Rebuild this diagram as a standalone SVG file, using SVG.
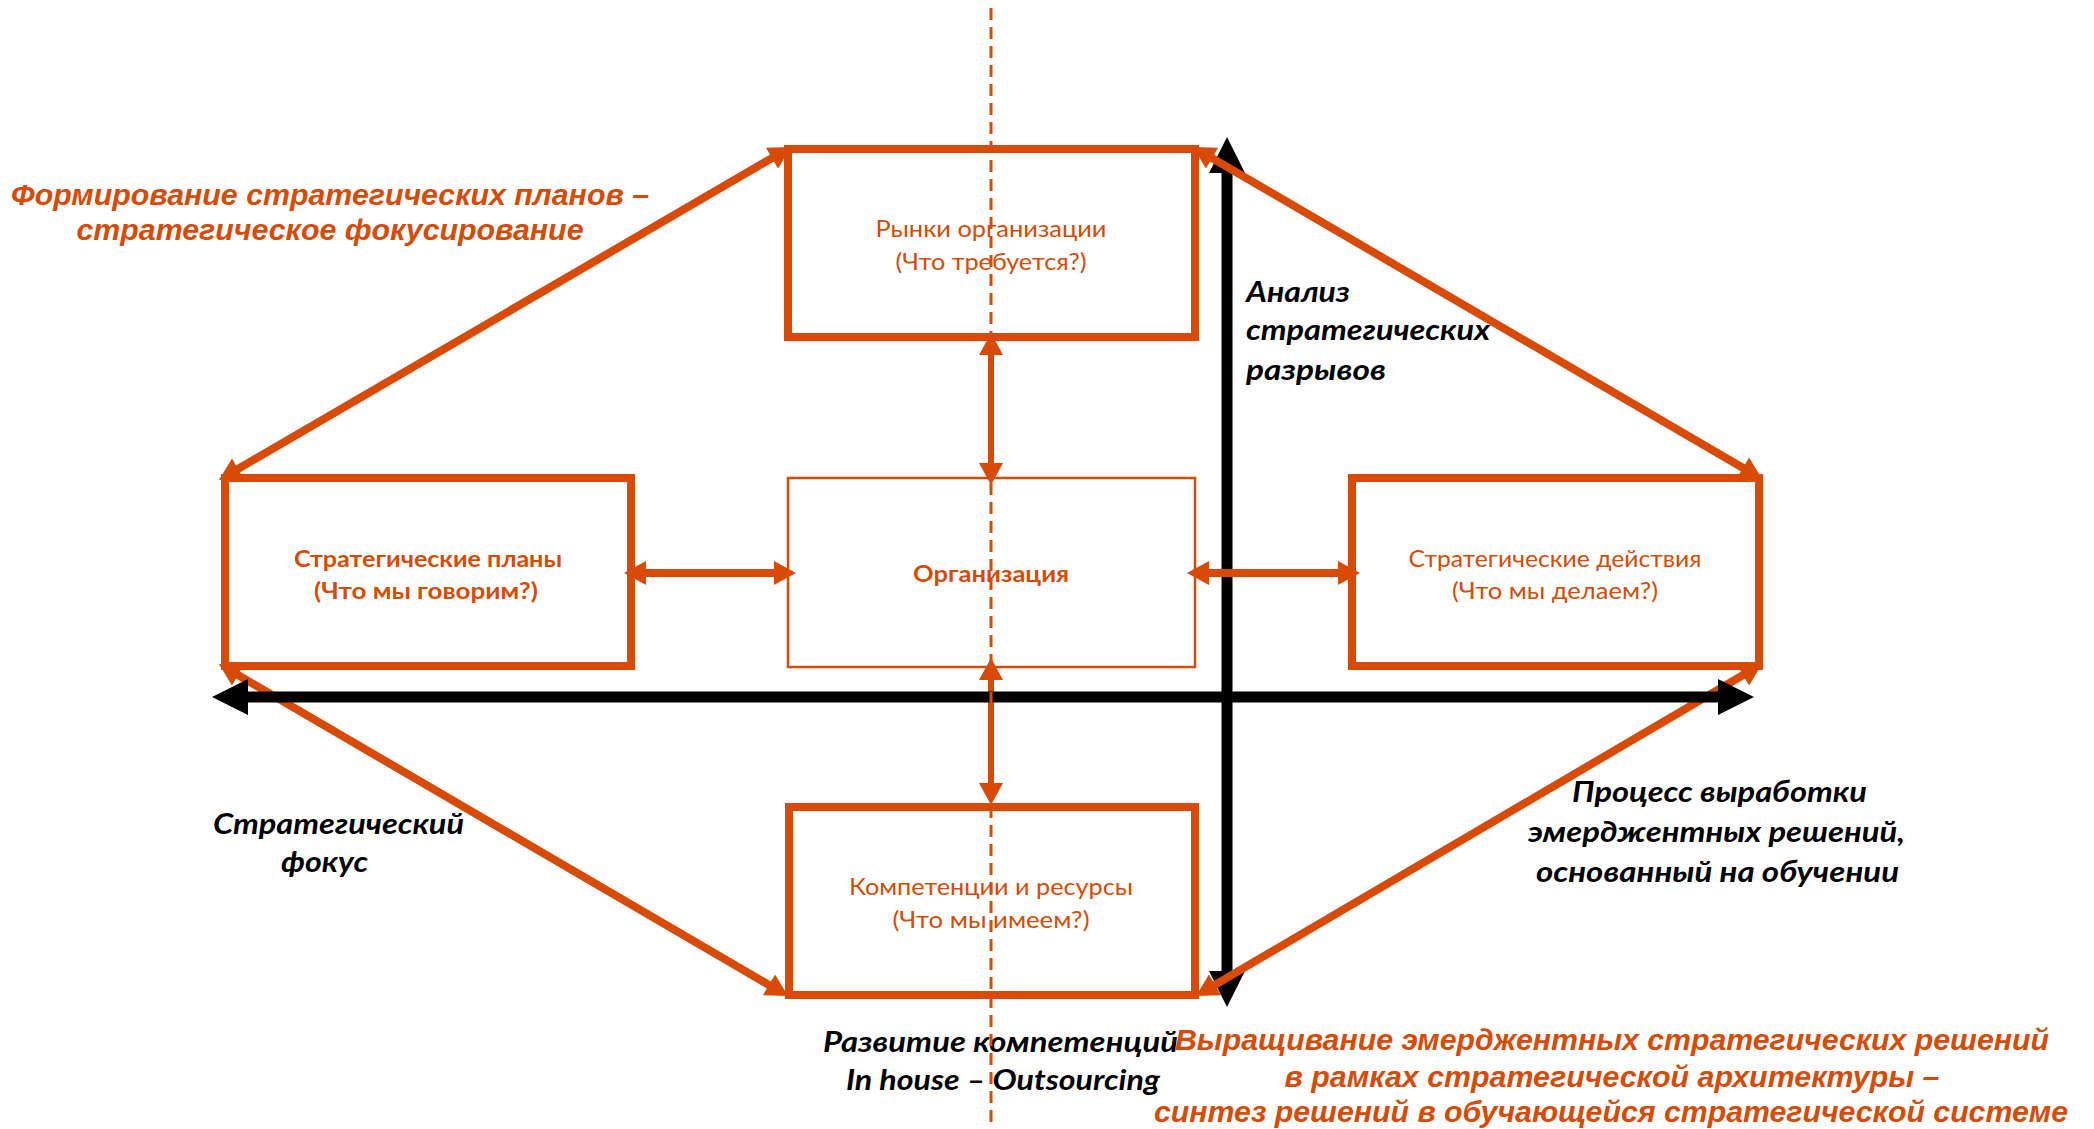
<svg xmlns="http://www.w3.org/2000/svg" width="2094" height="1129" viewBox="0 0 2094 1129">
<style>
.box{fill:#fff;stroke:#D84A05;stroke-width:8}
.thin{fill:#fff;stroke:#D84A05;stroke-width:2.5}
.bt{font-family:Lato,"Open Sans","Noto Sans",sans-serif;font-size:23px;fill:#D84A05;text-anchor:middle}
.bb{font-weight:bold}
.lbl{font-family:Lato,"Open Sans","Noto Sans",sans-serif;font-size:28px;font-weight:bold;font-style:italic;fill:#000}
.big{font-family:"Liberation Sans",Arial,sans-serif;font-size:29px;font-weight:bold;font-style:italic;fill:#D84A05;text-anchor:middle}
.oc{stroke:#D84A05;fill:none}
.ax{stroke:#000;stroke-width:11;fill:none}
</style>
<defs>
<marker id="ah" viewBox="-16 -13 26 26" refX="0" refY="0" markerWidth="26" markerHeight="26" markerUnits="userSpaceOnUse" orient="auto-start-reverse">
<path d="M-14,-12 L8,0 L-14,12 z" fill="#D84A05"/>
</marker>
<marker id="bh" viewBox="-26 -19 40 38" refX="0" refY="0" markerWidth="40" markerHeight="38" markerUnits="userSpaceOnUse" orient="auto-start-reverse">
<path d="M-24,-18 L12,0 L-24,18 z" fill="#000"/>
</marker>
</defs>
<rect width="2094" height="1129" fill="#fff"/>

<g id="axis-vertical">
<line class="ax" x1="1227" y1="149" x2="1227" y2="995" marker-start="url(#bh)" marker-end="url(#bh)"/>
</g>

<g id="node-markets">
<rect class="box" x="788" y="149" width="407" height="188"/>
<text class="bt" x="991" y="237" textLength="231" lengthAdjust="spacingAndGlyphs">Рынки организации</text>
<text class="bt" x="991" y="270" textLength="191" lengthAdjust="spacingAndGlyphs">(Что требуется?)</text>
</g>

<g id="node-org">
<rect class="thin" x="788" y="478" width="407" height="189"/>
<text class="bt bb" x="991" y="582" textLength="156" lengthAdjust="spacingAndGlyphs">Организация</text>
</g>

<g id="node-plans">
<rect class="box" x="225" y="478" width="406" height="188"/>
<text class="bt bb" x="428" y="567" textLength="268" lengthAdjust="spacingAndGlyphs">Стратегические планы</text>
<text class="bt bb" x="426" y="599" textLength="224" lengthAdjust="spacingAndGlyphs">(Что мы говорим?)</text>
</g>

<g id="node-actions">
<rect class="box" x="1352" y="478" width="407" height="188"/>
<text class="bt" x="1555" y="567" textLength="293" lengthAdjust="spacingAndGlyphs">Стратегические действия</text>
<text class="bt" x="1555" y="599" textLength="206" lengthAdjust="spacingAndGlyphs">(Что мы делаем?)</text>
</g>

<g id="node-competences">
<rect class="box" x="789" y="807" width="406" height="188"/>
<text class="bt" x="991" y="895" textLength="284" lengthAdjust="spacingAndGlyphs">Компетенции и ресурсы</text>
<text class="bt" x="991" y="928" textLength="197" lengthAdjust="spacingAndGlyphs">(Что мы имеем?)</text>
</g>

<g id="connectors">
<line class="oc" stroke-width="8" x1="225.9" y1="476" x2="784.1" y2="151" marker-start="url(#ah)" marker-end="url(#ah)"/>
<line class="oc" stroke-width="8" x1="1199.9" y1="151" x2="1755.1" y2="475" marker-start="url(#ah)" marker-end="url(#ah)"/>
<line class="oc" stroke-width="8" x1="225.9" y1="668" x2="781.1" y2="992" marker-start="url(#ah)" marker-end="url(#ah)"/>
<line class="oc" stroke-width="8" x1="1755.1" y1="668" x2="1202.9" y2="992" marker-start="url(#ah)" marker-end="url(#ah)"/>
<line class="oc" stroke-width="6" x1="991" y1="341" x2="991" y2="477" marker-start="url(#ah)" marker-end="url(#ah)"/>
<line class="oc" stroke-width="6" x1="991" y1="666" x2="991" y2="797" marker-start="url(#ah)" marker-end="url(#ah)"/>
<line class="oc" stroke-width="8" x1="632" y1="573" x2="788" y2="573" marker-start="url(#ah)" marker-end="url(#ah)"/>
<line class="oc" stroke-width="8" x1="1195" y1="573" x2="1352" y2="573" marker-start="url(#ah)" marker-end="url(#ah)"/>
</g>

<g id="axis-horizontal">
<line class="ax" x1="224" y1="697" x2="1742" y2="697" marker-start="url(#bh)" marker-end="url(#bh)"/>
</g>

<g id="labels">
<text class="lbl" x="1246" y="302" textLength="104" lengthAdjust="spacingAndGlyphs">Анализ</text>
<text class="lbl" x="1246" y="340" textLength="244" lengthAdjust="spacingAndGlyphs">стратегических</text>
<text class="lbl" x="1246" y="380" textLength="140" lengthAdjust="spacingAndGlyphs">разрывов</text>
<text class="lbl" x="213" y="834" textLength="251" lengthAdjust="spacingAndGlyphs">Стратегический</text>
<text class="lbl" x="281" y="872" textLength="87" lengthAdjust="spacingAndGlyphs">фокус</text>
<text class="lbl" x="823" y="1052" textLength="355" lengthAdjust="spacingAndGlyphs">Развитие компетенций</text>
<text class="lbl" x="846" y="1090" textLength="314" lengthAdjust="spacingAndGlyphs">In house – Outsourcing</text>
<text class="lbl" x="1572" y="802" textLength="295" lengthAdjust="spacingAndGlyphs">Процесс выработки</text>
<text class="lbl" x="1528" y="842" textLength="377" lengthAdjust="spacingAndGlyphs">эмерджентных решений,</text>
<text class="lbl" x="1536" y="882" textLength="363" lengthAdjust="spacingAndGlyphs">основанный на обучении</text>
<text class="big" x="330" y="205" textLength="638" lengthAdjust="spacingAndGlyphs">Формирование стратегических планов –</text>
<text class="big" x="330" y="240" textLength="507" lengthAdjust="spacingAndGlyphs">стратегическое фокусирование</text>
<text class="big" x="1612" y="1050" textLength="874" lengthAdjust="spacingAndGlyphs">Выращивание эмерджентных стратегических решений</text>
<text class="big" x="1612" y="1087" textLength="655" lengthAdjust="spacingAndGlyphs">в рамках стратегической архитектуры –</text>
<text class="big" x="1611" y="1122" textLength="914" lengthAdjust="spacingAndGlyphs">синтез решений в обучающейся стратегической системе</text>
</g>

<line id="axis-dashed" x1="991" y1="8" x2="991" y2="1129" stroke="#D84A05" stroke-width="3" stroke-dasharray="12 7"/>
</svg>
